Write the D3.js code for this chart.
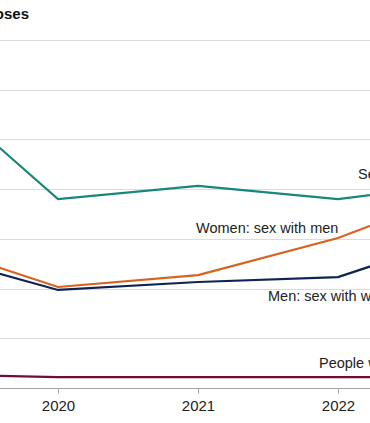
<!DOCTYPE html>
<html>
<head>
<meta charset="utf-8">
<script src="https://cdn.jsdelivr.net/npm/d3@7"></script>
<style>
  body { margin: 0; background: #fff; }
  svg { display: block; font-family: "Liberation Sans", Arial, sans-serif; }
</style>
</head>
<body>
<div id="chart"></div>
<script>
// data
var years = [2019, 2020, 2021, 2022, 2023];
var sexBetweenMen = [1569, 950, 1016, 950, 1038];
var womenSexWithMen = [739, 508, 568, 754, 1021];
var menSexWithWomen = [689, 493, 533, 558, 790];
var injectDrugs = [70, 55, 55, 55, 55];
var yTicks = [250, 500, 750, 1000, 1250, 1500, 1750];
var xTicks = [2020, 2021, 2022];

var series = [
  { name: "Sex between men", values: sexBetweenMen, color: "#17877a", lx: 358, ly: 179 },
  { name: "Women: sex with men", values: womenSexWithMen, color: "#d8621f", lx: 196, ly: 233 },
  { name: "Men: sex with women", values: menSexWithWomen, color: "#0f2453", lx: 268, ly: 301 },
  { name: "People who inject drugs", values: injectDrugs, color: "#6d0e3a", lx: 319, ly: 368 }
];

var width = 370, height = 423;
var svg = d3.select("#chart").append("svg")
  .attr("width", width)
  .attr("height", height);

// the chart is cropped on both sides, so the range runs past the edges
var xs = d3.scaleLinear().domain([2019, 2023]).range([-82, 478]);
var ys = d3.scaleLinear().domain([0, 1750]).range([388, 40]);

// gridlines
svg.append("g")
  .selectAll("line")
  .data(yTicks)
  .enter()
  .append("line")
  .attr("x1", 0)
  .attr("x2", width)
  .attr("y1", function(d) { return Math.round(ys(d)) + 0.5; })
  .attr("y2", function(d) { return Math.round(ys(d)) + 0.5; })
  .attr("stroke", "#dcdcdc")
  .attr("stroke-width", 1);

// x axis
var xAxis = svg.append("g")
  .attr("transform", "translate(0," + (Math.round(ys(0)) + 0.5) + ")")
  .call(d3.axisBottom(xs).tickValues(xTicks).tickFormat(d3.format("d")).tickSize(5).tickSizeOuter(0));
xAxis.select(".domain").attr("stroke", "#a6a6a6").attr("d", "M0,0H" + width);
xAxis.selectAll(".tick line").attr("stroke", "#a6a6a6");
xAxis.selectAll(".tick text")
  .attr("y", 12)
  .style("font-size", "15px")
  .style("font-family", "Liberation Sans, Arial, sans-serif")
  .attr("fill", "#222");

// lines
var line = d3.line()
  .x(function(d, i) { return xs(years[i]); })
  .y(function(d) { return ys(d); });

svg.selectAll(".series")
  .data(series)
  .enter()
  .append("path")
  .attr("fill", "none")
  .attr("stroke", function(d) { return d.color; })
  .attr("stroke-width", 2.2)
  .attr("stroke-linejoin", "miter")
  .attr("d", function(d) { return line(d.values); });

// direct labels
svg.selectAll(".lbl")
  .data(series)
  .enter()
  .append("text")
  .attr("x", function(d) { return d.lx; })
  .attr("y", function(d) { return d.ly; })
  .style("font-size", "14.5px")
  .attr("fill", "#222")
  .text(function(d) { return d.name; });

// title (cut off on the left)
svg.append("text")
  .attr("x", 29)
  .attr("y", 19)
  .attr("text-anchor", "end")
  .style("font-size", "15px")
  .style("font-weight", "bold")
  .attr("fill", "#111")
  .text("New HIV diagnoses");
</script>
</body>
</html>
